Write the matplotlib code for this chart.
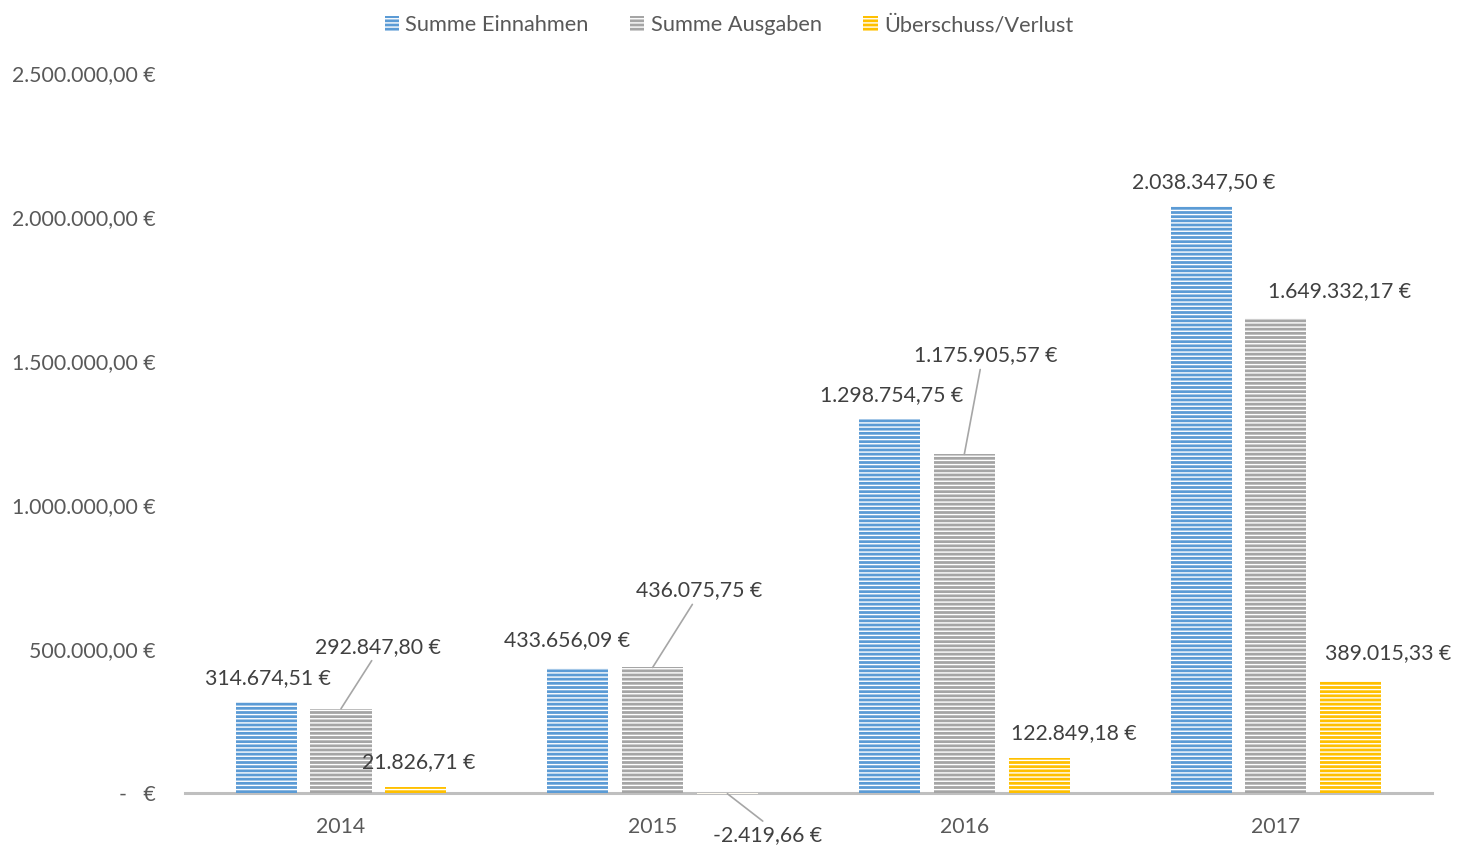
import matplotlib

matplotlib.use("Agg")
import matplotlib.pyplot as plt
import numpy as np
from matplotlib.ticker import FuncFormatter

years = ["2014", "2015", "2016", "2017"]
series_names = ["Summe Einnahmen", "Summe Ausgaben", "Überschuss/Verlust"]
einnahmen = [314674.51, 433656.09, 1298754.75, 2038347.50]
ausgaben = [292847.80, 436075.75, 1175905.57, 1649332.17]
ueberschuss = [21826.71, -2419.66, 122849.18, 389015.33]

colors = ["#5B9BD5", "#A5A5A5", "#FFC000"]

# label offsets (pixels from bar top centre) and whether a leader line is drawn
label_offsets = [
    [(2, 24, False), (37, 62, True), (3, 25, False)],
    [(-11, 28, False), (46, 77, True), (40, -41, True)],
    [(2, 24, False), (21, 99, True), (35, 25, False)],
    [(3, 24, False), (64, 27, False), (37, 28, False)],
]


def euro(v):
    s = f"{abs(v):,.2f}".replace(",", "X").replace(".", ",").replace("X", ".")
    return ("-" if v < 0 else "") + s + " €"


plt.rcParams["font.family"] = ["Lato", "DejaVu Sans"]
plt.rcParams["hatch.linewidth"] = 1.0

fig = plt.figure(figsize=(14.58, 8.46), dpi=100)
ax = fig.add_axes([0.127, 0.0626, 0.855, 0.851])

x = np.arange(len(years))
width = 0.196
offsets = [-0.24, 0.0, 0.24]
all_series = [einnahmen, ausgaben, ueberschuss]
px_to_pt = 72 / fig.dpi
fs = 15.3

for si, (vals, col, name) in enumerate(zip(all_series, colors, series_names)):
    bars = ax.bar(x + offsets[si], vals, width, color=col, edgecolor="white",
                  linewidth=0, hatch="----", label=name, clip_on=False)
    for ci, (b, v) in enumerate(zip(bars, vals)):
        dx, dy, leader = label_offsets[ci][si]
        arrow = None
        if leader:
            arrow = dict(arrowstyle="-", color="#A6A6A6", lw=1.2,
                         shrinkA=1, shrinkB=0,
                         relpos=(0.47, 0.0) if dy > 0 else (0.5, 1.0))
        ax.annotate(euro(v), xy=(b.get_x() + b.get_width() / 2, v),
                    xytext=(dx * px_to_pt, dy * px_to_pt), textcoords="offset points",
                    ha="center", va="center", fontsize=fs, color="#404040",
                    arrowprops=arrow, annotation_clip=False)

ax.set_xlim(-0.5, 3.5)
ax.set_ylim(0, 2500000)
ax.set_yticks(np.arange(0, 2500001, 500000))
ax.yaxis.set_major_formatter(FuncFormatter(
    lambda v, p: "-   €" if v == 0 else euro(v)))
ax.set_xticks(x)
ax.set_xticklabels(years)
ax.tick_params(axis="both", length=0, labelsize=fs, labelcolor="#595959")
ax.tick_params(axis="y", pad=21)
ax.tick_params(axis="x", pad=17)
for s in ["top", "right", "left"]:
    ax.spines[s].set_visible(False)
ax.spines["bottom"].set_color("#BFBFBF")
ax.spines["bottom"].set_linewidth(2.2)
ax.spines["bottom"].set_zorder(0)

fig.legend(loc="upper center", bbox_to_anchor=(0.5, 1.0), ncol=3, frameon=False,
           fontsize=15.7, labelcolor="#595959", handlelength=0.65, handleheight=0.65,
           handletextpad=0.3, columnspacing=1.9, borderaxespad=0.3)

fig.savefig("out.png", dpi=100)
